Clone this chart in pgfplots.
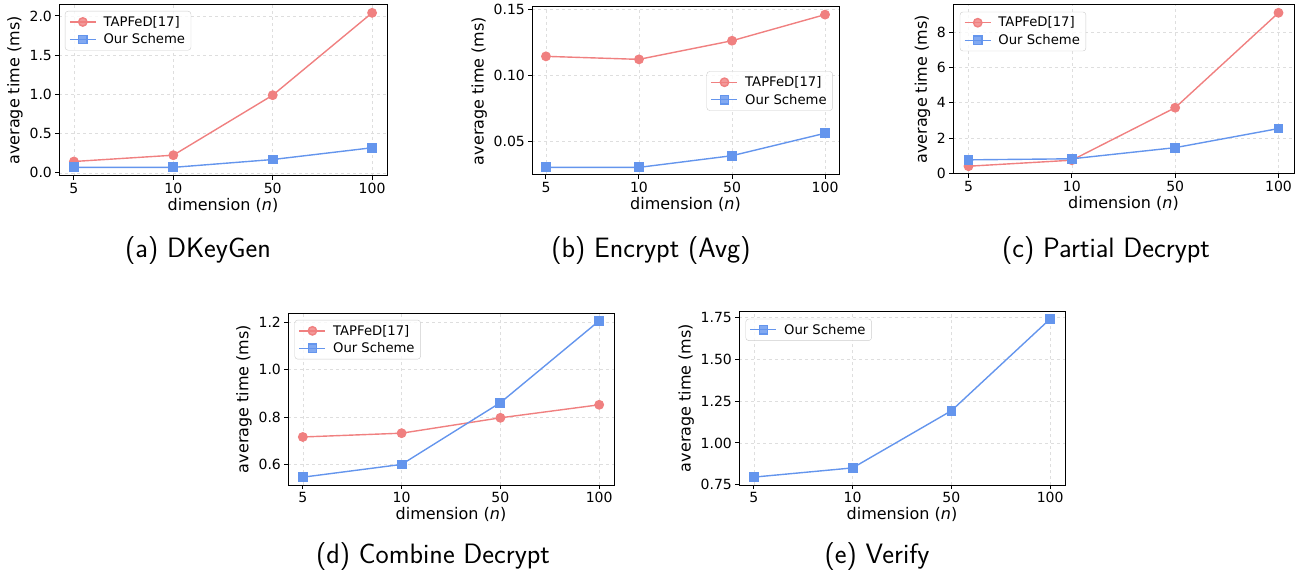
\documentclass[border=0pt]{standalone}
\usepackage{pgfplots}
\pgfplotsset{compat=1.18}
\usepackage{fontspec}
\newfontfamily\dejavu{DejaVu Sans}
\definecolor{tap}{HTML}{F08080}
\definecolor{our}{HTML}{6495ED}
\pgfplotsset{
 myax/.style={
  scale only axis,
  xmin=-0.15, xmax=3.15,
  xtick={0,1,2,3}, xticklabels={5,10,50,100},
  grid=major,
  grid style={dashed, black!13, line width=0.6pt},
  axis line style={line width=1pt},
  tick align=outside, tick pos=left,
  major tick length=3.6pt,
  every tick/.style={black, line width=1pt},
  tick label style={font=\dejavu\fontsize{14}{16}\selectfont},
  /pgf/number format/assume math mode=true,
  label style={font=\dejavu\fontsize{16}{18}\selectfont},
  xlabel={dimension ({\itshape n})},
  ylabel={average time (ms)},
  xlabel style={yshift=2pt},
  legend style={font=\dejavu\fontsize{13.2}{15}\selectfont, draw=black!20, rounded corners=3pt, fill=white, fill opacity=0.8, text opacity=1, inner xsep=4pt, inner ysep=3pt, row sep=2pt,
    /tikz/every odd column/.append style={column sep=5pt}},
  legend cell align=left,
  legend image code/.code={\draw[mark repeat=2,mark phase=2] plot coordinates {(0pt,0pt)(13pt,0pt)(26pt,0pt)};},
 },
 tapline/.style={color=tap, line width=1.4pt, mark=*, mark size=4.2pt, mark options={solid}},
 ourline/.style={color=our, line width=1.4pt, mark=square*, mark size=4.2pt, mark options={solid}},
}
\begin{document}
\begin{tikzpicture}
\useasboundingbox (0pt,0pt) rectangle (1306pt,-577pt);
% (a)
\begin{axis}[myax, at={(59pt,-5pt)}, anchor=north west, width=328pt, height=171pt,
  ymin=-0.04, ymax=2.14, ytick={0,0.5,1,1.5,2},
  yticklabel style={/pgf/number format/.cd, fixed, fixed zerofill, precision=1},
  legend style={at={(0.018,0.965)}, anchor=north west}]
\addplot[tapline] coordinates {(0,0.145) (1,0.225) (2,0.99) (3,2.04)};
\addlegendentry{TAPFeD[17]}
\addplot[ourline] coordinates {(0,0.07) (1,0.07) (2,0.17) (3,0.32)};
\addlegendentry{Our Scheme}
\end{axis}
% (b)
\begin{axis}[myax, at={(532pt,-7pt)}, anchor=north west, width=307pt, height=168pt,
  ymin=0.0241, ymax=0.1521, ytick={0.05,0.1,0.15},
  yticklabel style={/pgf/number format/.cd, fixed, fixed zerofill, precision=2},
  legend style={at={(0.98,0.5)}, anchor=east}]
\addplot[tapline] coordinates {(0,0.1145) (1,0.1122) (2,0.1264) (3,0.1463)};
\addlegendentry{TAPFeD[17]}
\addplot[ourline] coordinates {(0,0.0299) (1,0.0299) (2,0.0388) (3,0.0559)};
\addlegendentry{Our Scheme}
\end{axis}
% (c)
\begin{axis}[myax, at={(953pt,-5pt)}, anchor=north west, width=341pt, height=169pt,
  ymin=-0.03, ymax=9.53, ytick={0,2,4,6,8},
  legend style={at={(0.02,0.96)}, anchor=north west}]
\addplot[tapline] coordinates {(0,0.41) (1,0.75) (2,3.72) (3,9.09)};
\addlegendentry{TAPFeD[17]}
\addplot[ourline] coordinates {(0,0.77) (1,0.83) (2,1.46) (3,2.54)};
\addlegendentry{Our Scheme}
\end{axis}
% (d)
\begin{axis}[myax, at={(288pt,-313pt)}, anchor=north west, width=326pt, height=172pt,
  ymin=0.513, ymax=1.240, ytick={0.6,0.8,1.0,1.2},
  yticklabel style={/pgf/number format/.cd, fixed, fixed zerofill, precision=1},
  legend style={at={(0.02,0.96)}, anchor=north west}]
\addplot[tapline] coordinates {(0,0.716) (1,0.732) (2,0.797) (3,0.852)};
\addlegendentry{TAPFeD[17]}
\addplot[ourline] coordinates {(0,0.546) (1,0.600) (2,0.861) (3,1.207)};
\addlegendentry{Our Scheme}
\end{axis}
% (e)
\begin{axis}[myax, at={(739pt,-311pt)}, anchor=north west, width=326pt, height=174pt,
  ymin=0.749, ymax=1.787, ytick={0.75,1,1.25,1.5,1.75},
  yticklabel style={/pgf/number format/.cd, fixed, fixed zerofill, precision=2},
  legend style={at={(0.02,0.955)}, anchor=north west}]
\addplot[ourline] coordinates {(0,0.796) (1,0.851) (2,1.192) (3,1.740)};
\addlegendentry{Our Scheme}
\end{axis}
% captions
\begin{scope}[every node/.style={font=\sffamily\fontsize{28}{32}\selectfont}]
\node at (198pt,-251pt) {(a) DKeyGen};
\node at (651pt,-251pt) {(b) Encrypt (Avg)};
\node at (1106pt,-251pt) {(c) Partial Decrypt};
\node at (433pt,-557pt) {(d) Combine Decrypt};
\node at (877pt,-557pt) {(e) Verify};
\end{scope}
\end{tikzpicture}
\end{document}
